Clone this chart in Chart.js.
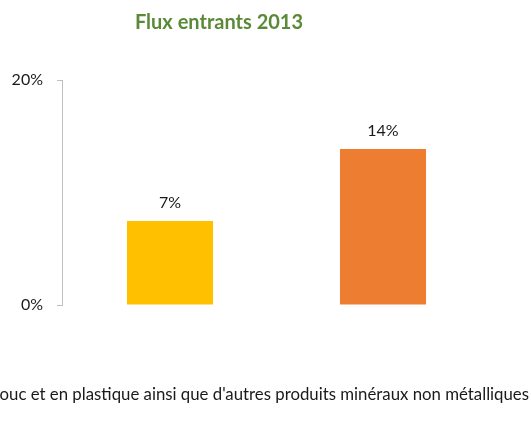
<!DOCTYPE html>
<html><head><meta charset="utf-8">
<script src="https://cdn.jsdelivr.net/npm/chart.js@4"></script>
<style>html,body{margin:0;padding:0;background:#fff}#wrap{width:531px;height:438px}</style>
</head><body><div id="wrap"><canvas id="c" width="531" height="438"></canvas></div>
<script>
const chartTitle = "Flux entrants 2013";
const categories = ["Fabrication de produits en caoutchouc et en plastique ainsi que d'autres produits minéraux non métalliques"];
const seriesNames = ["Série 1", "Série 2"];
const series1 = [7.47];
const series2 = [13.87];
const dataLabels1 = ["7%"];
const dataLabels2 = ["14%"];
const yTicks = [0, 20];
const FONT = "Lato, 'Open Sans', sans-serif";

const overlay = {
  id: 'overlay',
  afterDraw(chart) {
    const ctx = chart.ctx;
    ctx.save();
    // title
    ctx.fillStyle = '#5A8A37';
    ctx.font = "bold 20px " + FONT;
    ctx.textAlign = 'center';
    ctx.textBaseline = 'alphabetic';
    ctx.fillText(chartTitle, 219, 29);
    // data labels
    ctx.fillStyle = '#1a1a1a';
    ctx.font = "16px " + FONT;
    const lbls = [dataLabels1, dataLabels2];
    chart.data.datasets.forEach((ds, i) => {
      const meta = chart.getDatasetMeta(i);
      meta.data.forEach((bar, j) => {
        ctx.fillText(lbls[i][j], bar.x, bar.y - 13);
      });
    });
    // category label
    ctx.font = "16.8px " + FONT;
    ctx.textAlign = 'right';
    ctx.fillText(categories[0], 529, 400);
    ctx.restore();
  }
};

new Chart(document.getElementById('c'), {
  type: 'bar',
  data: {
    labels: categories,
    datasets: [
      { label: seriesNames[0], data: series1, backgroundColor: '#FFC000' },
      { label: seriesNames[1], data: series2, backgroundColor: '#ED7D31' }
    ]
  },
  options: {
    responsive: false,
    animation: false,
    events: [],
    layout: { padding: { top: 80, bottom: 133, left: 0, right: 40 } },
    plugins: { legend: { display: false }, title: { display: false }, tooltip: { enabled: false } },
    datasets: { bar: { categoryPercentage: 0.993, barPercentage: 0.404 } },
    scales: {
      x: { display: false },
      y: {
        min: 0, max: 20,
        afterFit(s) { s.width = 62; },
        afterBuildTicks(s) { s.ticks = yTicks.map(v => ({ value: v })); },
        ticks: { padding: 14, color: '#1a1a1a', font: { family: FONT, size: 16 }, callback: v => v + '%' },
        grid: { display: true, drawOnChartArea: false, drawTicks: true, tickLength: 5, color: '#BFBFBF' },
        border: { display: true, color: '#BFBFBF' }
      }
    }
  },
  plugins: [overlay]
});
</script></body></html>
